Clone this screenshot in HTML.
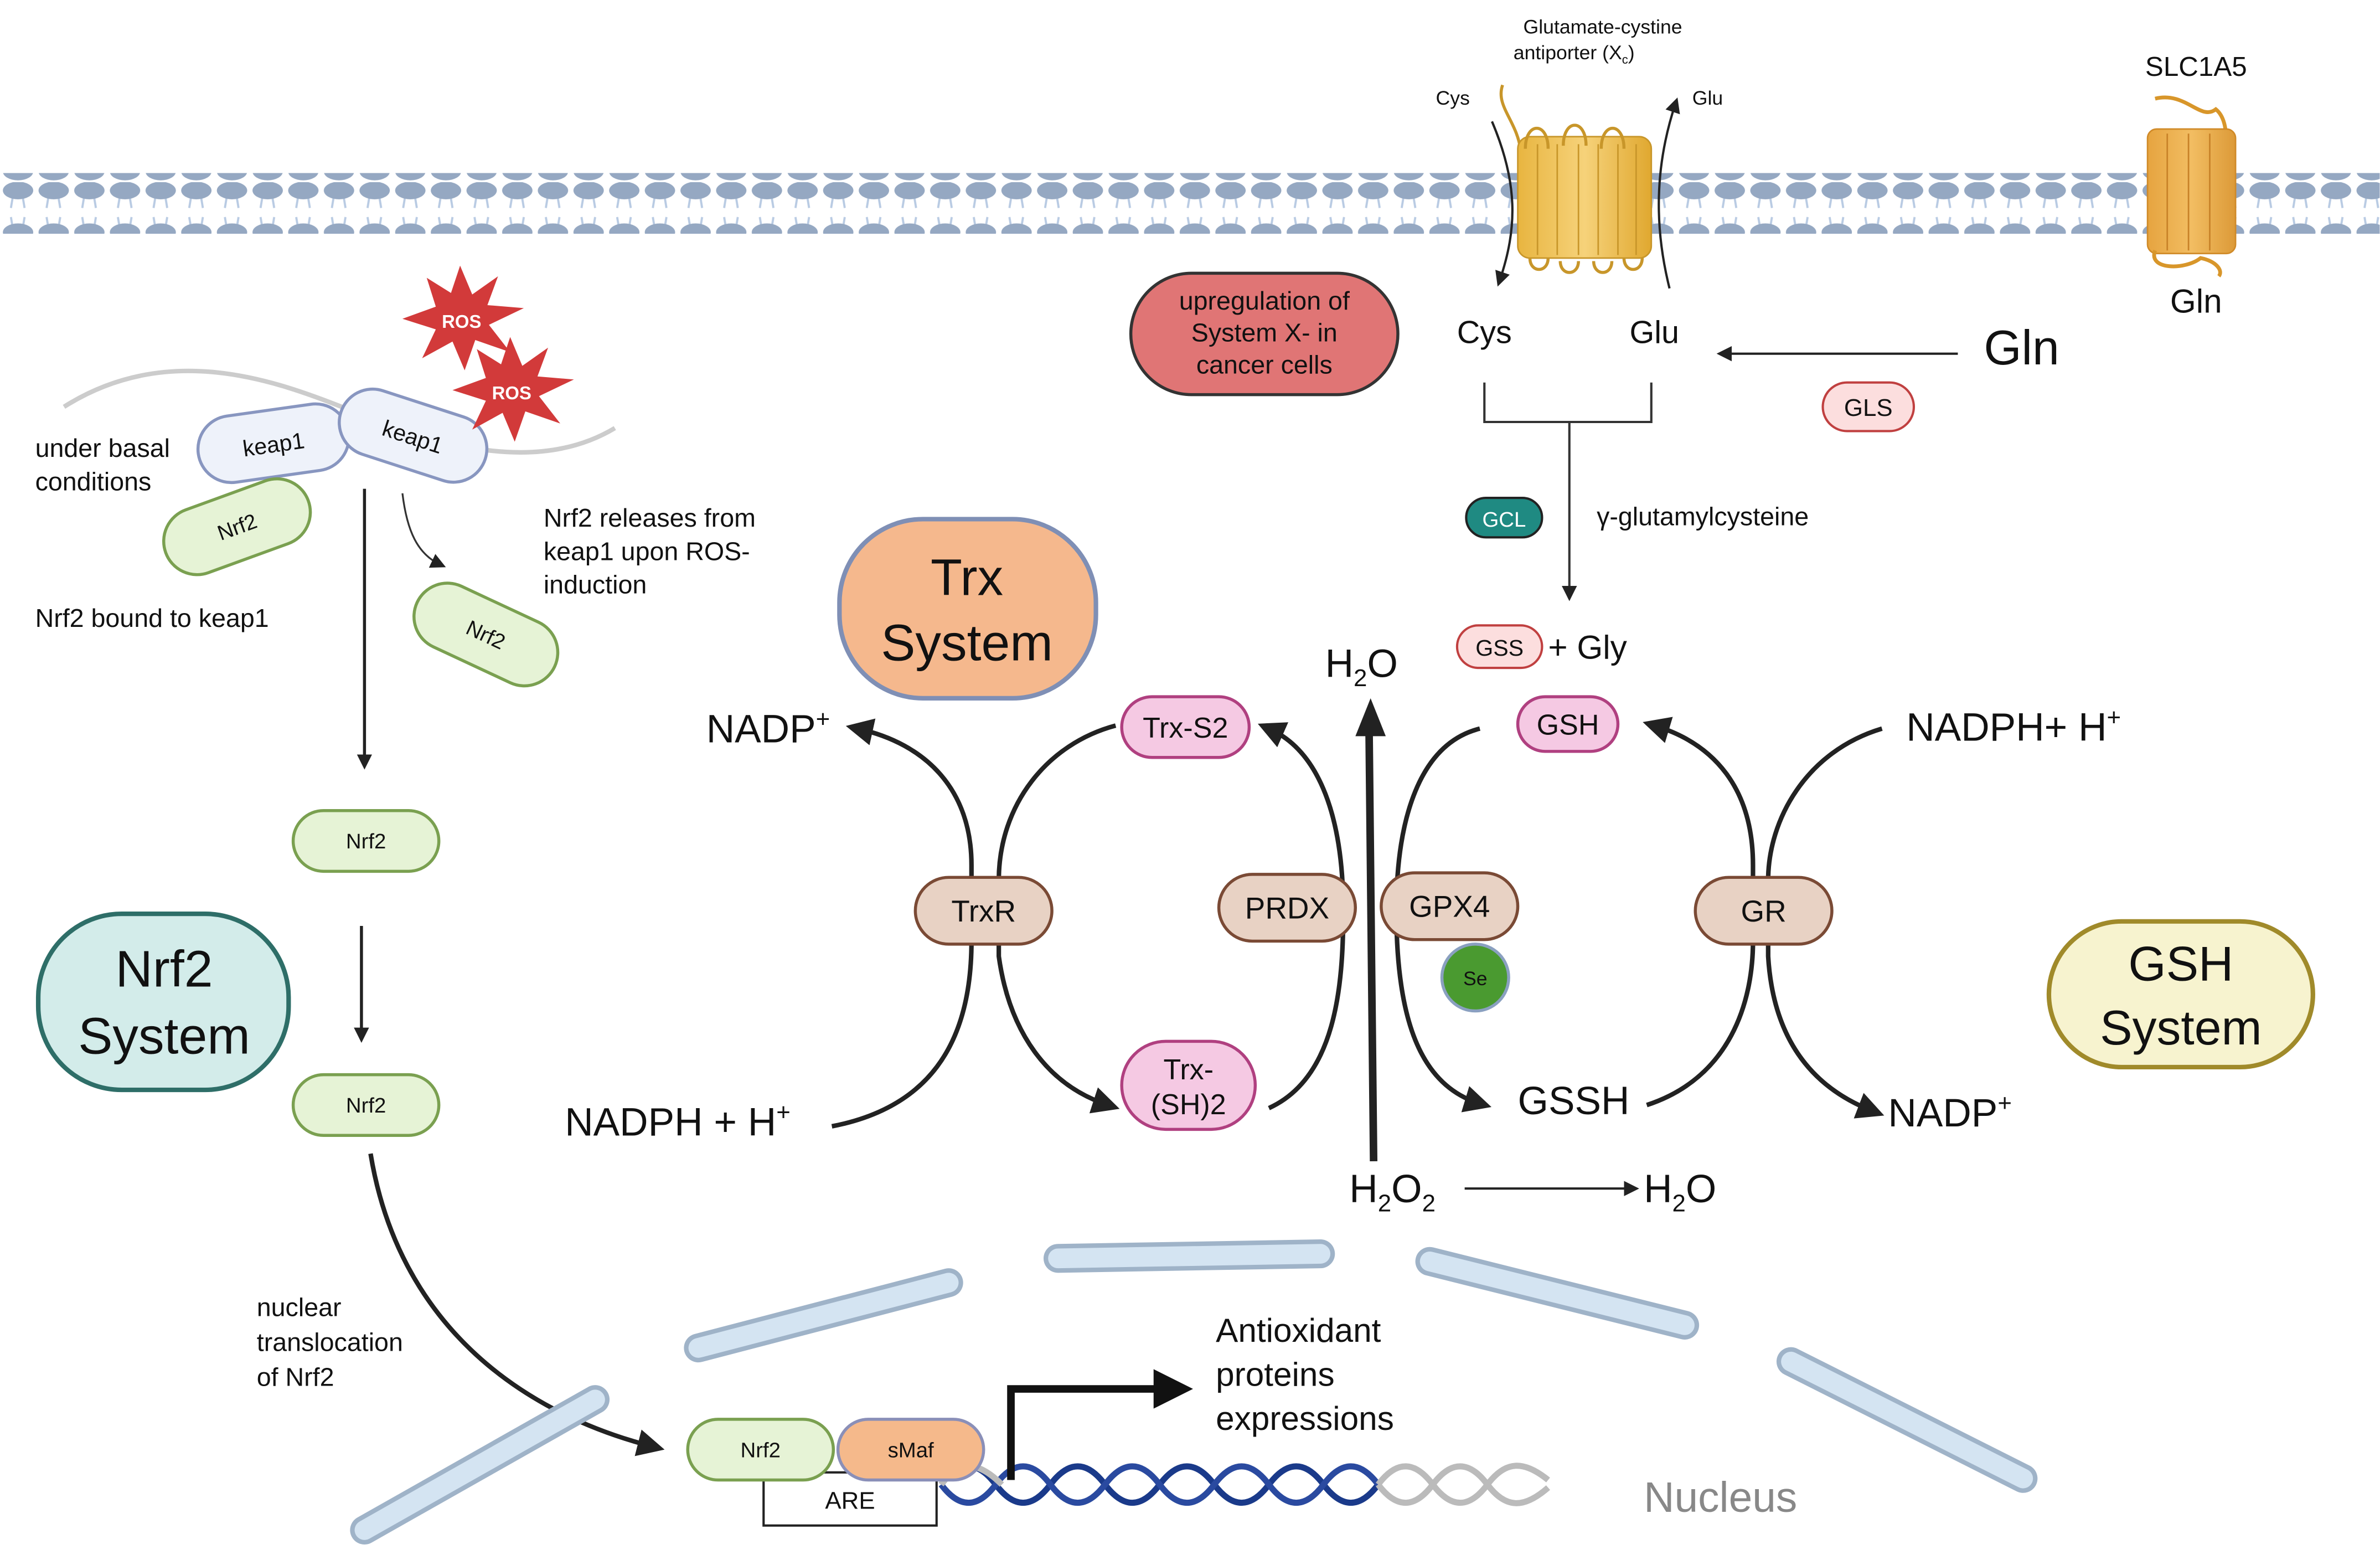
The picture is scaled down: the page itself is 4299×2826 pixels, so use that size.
<!DOCTYPE html>
<html><head><meta charset="utf-8"><style>
html,body{margin:0;padding:0;background:#fff}
svg{display:block}
text{font-family:"Liberation Sans",sans-serif;fill:#111}
</style></head><body>
<svg width="4299" height="2826" viewBox="0 0 1568 1031" xmlns="http://www.w3.org/2000/svg">
<defs>
<pattern id="mem" x="0" y="0" width="23.5" height="40" patternUnits="userSpaceOnUse">
<path d="M9,5 L7,17 M14,5 L16,17 M9,35 L7,23 M14,35 L16,23" stroke="#b9cbe3" stroke-width="1.4" fill="none"/>
<ellipse cx="11.7" cy="5.5" rx="10" ry="5.8" fill="#95a8c2"/>
<ellipse cx="11.7" cy="33" rx="10" ry="5.8" fill="#95a8c2"/>
</pattern>
<marker id="ah" markerWidth="10" markerHeight="10" refX="6" refY="5" orient="auto" markerUnits="userSpaceOnUse"><path d="M0,0 L10,5 L0,10 z" fill="#222"/></marker>
<marker id="ahb" markerWidth="18" markerHeight="18" refX="10" refY="9" orient="auto" markerUnits="userSpaceOnUse"><path d="M0,0 L18,9 L0,18 z" fill="#222"/></marker>
<linearGradient id="gold" x1="0" x2="1"><stop offset="0" stop-color="#e8b540"/><stop offset="0.5" stop-color="#f6d27a"/><stop offset="1" stop-color="#e0a830"/></linearGradient>
<linearGradient id="or" x1="0" x2="1"><stop offset="0" stop-color="#e6a440"/><stop offset="0.5" stop-color="#f2bd62"/><stop offset="1" stop-color="#dc9a38"/></linearGradient>
</defs>

<rect x="0" y="114" width="1568" height="40" fill="url(#mem)"/>

<g stroke="#c8962a" stroke-width="1">
<path d="M990,56 C985,70 1000,80 1002,100" fill="none" stroke="#c8962a" stroke-width="2"/>
<rect x="1000" y="90" width="88" height="80" rx="8" fill="url(#gold)"/>
<path d="M1013,95 V168 M1026,95 V168 M1040,95 V168 M1053,95 V168 M1066,95 V168 M1078,95 V168" fill="none"/>
<path d="M1005,98 C1005,80 1020,80 1020,98 M1030,96 C1030,78 1045,78 1045,96 M1055,98 C1055,80 1070,80 1070,98" fill="none" stroke-width="2"/>
<path d="M1008,170 c0,10 12,10 12,0 M1028,172 c0,10 12,10 12,0 M1050,172 c0,10 12,10 12,0 M1070,170 c0,10 12,10 12,0" fill="none" stroke-width="2"/>
</g>
<path d="M983,80 C1000,120 1000,150 988,185" fill="none" stroke="#222" stroke-width="1.5" marker-end="url(#ah)"/>
<path d="M1100,190 C1090,150 1090,110 1104,68" fill="none" stroke="#222" stroke-width="1.5" marker-end="url(#ah)"/>
<text x="1056" y="22" font-size="13" text-anchor="middle">Glutamate-cystine</text>
<text x="1077" y="39" font-size="13" text-anchor="end">antiporter (X<tspan font-size="8" dy="3">c</tspan><tspan dy="-3">)</tspan></text>
<text x="946" y="69" font-size="13">Cys</text>
<text x="1115" y="69" font-size="13">Glu</text>

<path d="M1420,65 C1440,60 1450,80 1460,72 C1470,80 1465,100 1470,100" fill="none" stroke="#d8962a" stroke-width="2.5"/>
<rect x="1415" y="85" width="58" height="82" rx="6" fill="url(#or)" stroke="#d08a28"/>
<path d="M1428,88 V165 M1442,88 V165 M1456,88 V165" stroke="#c88228" fill="none"/>
<path d="M1420,165 C1415,178 1440,178 1450,170 C1460,172 1465,178 1462,182" fill="none" stroke="#d8962a" stroke-width="2.5"/>
<text x="1447" y="50" font-size="18" text-anchor="middle">SLC1A5</text>
<text x="1447" y="206" font-size="22" text-anchor="middle">Gln</text>

<rect x="745" y="180" width="176" height="80" rx="40" fill="#e07575" stroke="#333" stroke-width="2"/>
<text x="833" y="204" font-size="17" text-anchor="middle">upregulation of</text>
<text x="833" y="225" font-size="17" text-anchor="middle">System X- in</text>
<text x="833" y="246" font-size="17" text-anchor="middle">cancer cells</text>

<text x="978" y="226" font-size="21" text-anchor="middle">Cys</text>
<text x="1090" y="226" font-size="21" text-anchor="middle">Glu</text>
<text x="1332" y="240" font-size="32" text-anchor="middle">Gln</text>
<path d="M1290,233 L1135,233" stroke="#222" stroke-width="1.5" marker-end="url(#ah)"/>
<rect x="1201" y="252" width="60" height="32" rx="16" fill="#fcdede" stroke="#c04040" stroke-width="1.5"/>
<text x="1231" y="274" font-size="16" text-anchor="middle">GLS</text>
<path d="M978,252 V278 H1088 V252" fill="none" stroke="#333" stroke-width="1.5"/>
<path d="M1034,278 V392" stroke="#333" stroke-width="1.5" marker-end="url(#ah)"/>
<rect x="966" y="328" width="50" height="26" rx="13" fill="#1f8a82" stroke="#222" stroke-width="1.5"/>
<text x="991" y="347" font-size="14" text-anchor="middle" style="fill:#fff">GCL</text>
<text x="1052" y="346" font-size="17">γ-glutamylcysteine</text>
<rect x="960" y="412" width="56" height="28" rx="14" fill="#fcdede" stroke="#c04040" stroke-width="1.5"/>
<text x="988" y="432" font-size="15" text-anchor="middle">GSS</text>
<text x="1020" y="434" font-size="22">+ Gly</text>

<path d="M42,268 C110,225 180,250 230,270 S350,315 405,282" fill="none" stroke="#ccc" stroke-width="3"/>
<g transform="translate(180,292) rotate(-8)"><rect x="-50" y="-22" width="100" height="44" rx="22" fill="#eef2fa" stroke="#8896c0" stroke-width="2"/><text y="6" font-size="15" text-anchor="middle">keap1</text></g>
<g transform="translate(272,287) rotate(18)"><rect x="-50" y="-22" width="100" height="44" rx="22" fill="#eef2fa" stroke="#8896c0" stroke-width="2"/><text y="6" font-size="15" text-anchor="middle">keap1</text></g>
<g transform="translate(156,347) rotate(-20)"><rect x="-50" y="-22" width="100" height="44" rx="22" fill="#e6f3d6" stroke="#7aa050" stroke-width="2"/><text y="5" font-size="14" text-anchor="middle">Nrf2</text></g>
<g transform="translate(320,418) rotate(25)"><rect x="-50" y="-22" width="100" height="44" rx="22" fill="#e6f3d6" stroke="#7aa050" stroke-width="2"/><text y="5" font-size="14" text-anchor="middle">Nrf2</text></g>
<polygon points="303,175 311,194 328,182 321,201 345,203 322,214 336,232 313,224 306,244 298,225 278,236 287,217 265,210 287,202 281,183 297,193" fill="#d23a3a"/>
<text x="304" y="216" font-size="12" font-weight="bold" text-anchor="middle" style="fill:#fff">ROS</text>
<polygon points="336,222 344,241 361,229 354,248 378,250 355,261 369,279 346,271 339,291 331,272 311,283 320,264 298,257 320,249 314,230 330,240" fill="#d23a3a"/>
<text x="337" y="263" font-size="12" font-weight="bold" text-anchor="middle" style="fill:#fff">ROS</text>
<text x="23" y="301" font-size="17">under basal</text>
<text x="23" y="323" font-size="17">conditions</text>
<text x="23" y="413" font-size="17">Nrf2 bound to keap1</text>
<text x="358" y="347" font-size="17">Nrf2 releases from</text>
<text x="358" y="369" font-size="17">keap1 upon ROS-</text>
<text x="358" y="391" font-size="17">induction</text>
<path d="M265,325 C268,350 275,365 290,372" fill="none" stroke="#333" stroke-width="1.2" marker-end="url(#ah)"/>
<path d="M240,322 V503" stroke="#222" stroke-width="2" marker-end="url(#ah)"/>
<rect x="193" y="534" width="96" height="40" rx="20" fill="#e6f3d6" stroke="#7aa050" stroke-width="2"/>
<text x="241" y="559" font-size="14" text-anchor="middle">Nrf2</text>
<path d="M238,610 V683" stroke="#222" stroke-width="2" marker-end="url(#ah)"/>
<rect x="193" y="708" width="96" height="40" rx="20" fill="#e6f3d6" stroke="#7aa050" stroke-width="2"/>
<text x="241" y="733" font-size="14" text-anchor="middle">Nrf2</text>
<path d="M244,760 C262,870 340,930 430,953" fill="none" stroke="#222" stroke-width="3" marker-end="url(#ahb)"/>
<text x="169" y="867" font-size="17">nuclear</text>
<text x="169" y="890" font-size="17">translocation</text>
<text x="169" y="913" font-size="17">of Nrf2</text>

<rect x="25" y="602" width="165" height="116" rx="55" fill="#d3ecea" stroke="#2e6e68" stroke-width="3"/>
<text x="108" y="650" font-size="34" text-anchor="middle">Nrf2</text>
<text x="108" y="694" font-size="34" text-anchor="middle">System</text>
<rect x="553" y="342" width="169" height="118" rx="55" fill="#f5b88d" stroke="#7f8fb5" stroke-width="3"/>
<text x="637" y="392" font-size="34" text-anchor="middle">Trx</text>
<text x="637" y="435" font-size="34" text-anchor="middle">System</text>
<rect x="1350" y="607" width="174" height="96" rx="48" fill="#f7f3cf" stroke="#a08a2a" stroke-width="3"/>
<text x="1437" y="646" font-size="32" text-anchor="middle">GSH</text>
<text x="1437" y="688" font-size="32" text-anchor="middle">System</text>

<g fill="none" stroke="#222" stroke-width="3">
<path d="M548,742 C610,730 640,690 640,620 L640,570 C640,520 610,490 565,480" marker-end="url(#ahb)"/>
<path d="M735,478 C690,490 658,530 658,580 L658,630 C665,680 690,715 730,728" marker-end="url(#ahb)"/>
<path d="M836,730 C880,710 885,650 885,600 C885,540 870,495 836,480" marker-end="url(#ahb)"/>
<path d="M975,480 C935,490 920,540 920,600 C920,670 935,715 975,727" marker-end="url(#ahb)"/>
<path d="M1240,480 C1190,495 1165,540 1165,580 L1165,630 C1168,680 1190,715 1234,732" marker-end="url(#ahb)"/>
<path d="M1085,728 C1140,710 1155,660 1155,620 L1155,570 C1155,520 1130,490 1090,478" marker-end="url(#ahb)"/>
</g>
<polygon points="903,460 893,485 913,485" fill="#222"/>
<path d="M905,765 L902,480" stroke="#222" stroke-width="5" fill="none"/>
<path d="M965,783 L1076,783" stroke="#222" stroke-width="1.5" marker-end="url(#ah)"/>

<text x="506" y="489" font-size="26" text-anchor="middle">NADP<tspan font-size="16" dy="-10">+</tspan></text>
<text x="372" y="748" font-size="26">NADPH + H<tspan font-size="16" dy="-10">+</tspan></text>
<text x="897" y="446" font-size="26" text-anchor="middle">H<tspan font-size="16" dy="6">2</tspan><tspan dy="-6">O</tspan></text>
<text x="1256" y="488" font-size="26">NADPH+ H<tspan font-size="16" dy="-10">+</tspan></text>
<text x="1244" y="742" font-size="26">NADP<tspan font-size="16" dy="-10">+</tspan></text>
<text x="1000" y="734" font-size="26">GSSH</text>
<text x="889" y="792" font-size="26">H<tspan font-size="16" dy="6">2</tspan><tspan dy="-6">O</tspan><tspan font-size="16" dy="6">2</tspan></text>
<text x="1083" y="792" font-size="26">H<tspan font-size="16" dy="6">2</tspan><tspan dy="-6">O</tspan></text>

<g stroke="#7a4a35" stroke-width="2" fill="#e8d2c4">
<rect x="603" y="578" width="90" height="44" rx="22"/>
<rect x="803" y="576" width="90" height="44" rx="22"/>
<rect x="910" y="575" width="90" height="44" rx="22"/>
<rect x="1117" y="578" width="90" height="44" rx="22"/>
</g>
<text x="648" y="607" font-size="20" text-anchor="middle">TrxR</text>
<text x="848" y="605" font-size="20" text-anchor="middle">PRDX</text>
<text x="955" y="604" font-size="20" text-anchor="middle">GPX4</text>
<text x="1162" y="607" font-size="20" text-anchor="middle">GR</text>
<circle cx="972" cy="644" r="22" fill="#4a9a30" stroke="#8aa0c0" stroke-width="2"/>
<text x="972" y="649" font-size="13" text-anchor="middle">Se</text>
<g stroke="#b04080" stroke-width="2" fill="#f5c9e3">
<rect x="739" y="459" width="84" height="40" rx="20"/>
<rect x="1000" y="459" width="66" height="36" rx="18"/>
<rect x="739" y="686" width="88" height="58" rx="29"/>
</g>
<text x="781" y="486" font-size="19" text-anchor="middle">Trx-S2</text>
<text x="1033" y="484" font-size="19" text-anchor="middle">GSH</text>
<text x="783" y="711" font-size="19" text-anchor="middle">Trx-</text>
<text x="783" y="734" font-size="19" text-anchor="middle">(SH)2</text>

<g stroke-linecap="round" fill="none">
<g stroke="#9fb3c8" stroke-width="19">
<path d="M240,1008 L392,922"/><path d="M460,888 L625,845"/><path d="M697,829 L870,826"/><path d="M942,831 L1110,873"/><path d="M1180,897 L1333,974"/>
</g>
<g stroke="#d4e4f2" stroke-width="13">
<path d="M240,1008 L392,922"/><path d="M460,888 L625,845"/><path d="M697,829 L870,826"/><path d="M942,831 L1110,873"/><path d="M1180,897 L1333,974"/>
</g>
</g>
<text x="1083" y="996" font-size="28" style="fill:#888">Nucleus</text>

<g fill="none" stroke-width="4">
<path d="M620,978 C632,962 644,962 656,978 S680,994 692,978 S716,962 728,978 S752,994 764,978 S788,962 800,978 S824,994 836,978 S860,962 872,978 S896,994 908,978" stroke="#1a3a8a"/>
<path d="M620,978 C632,994 644,994 656,978 S680,962 692,978 S716,994 728,978 S752,962 764,978 S788,994 800,978 S824,962 836,978 S860,994 872,978 S896,962 908,978" stroke="#2a4aa0"/>
<path d="M908,978 C920,962 932,962 944,978 S968,994 980,978 S1004,962 1020,975" stroke="#bbb"/>
<path d="M908,978 C920,994 932,994 944,978 S968,962 980,978 S1004,994 1020,980" stroke="#bbb"/>
<path d="M620,978 C632,962 644,962 660,978" stroke="#bbb"/>
</g>
<rect x="503" y="970" width="114" height="35" fill="#fff" stroke="#222" stroke-width="1.5"/>
<text x="560" y="994" font-size="16" text-anchor="middle">ARE</text>
<rect x="453" y="935" width="96" height="40" rx="20" fill="#e6f3d6" stroke="#7aa050" stroke-width="2"/>
<text x="501" y="960" font-size="14" text-anchor="middle">Nrf2</text>
<rect x="552" y="935" width="96" height="40" rx="20" fill="#f5b98b" stroke="#8a8fb8" stroke-width="2"/>
<text x="600" y="960" font-size="14" text-anchor="middle">sMaf</text>
<path d="M666,975 L666,915 L762,915" fill="none" stroke="#111" stroke-width="5"/>
<polygon points="760,902 786,915 760,928" fill="#111"/>
<text x="801" y="884" font-size="22">Antioxidant</text>
<text x="801" y="913" font-size="22">proteins</text>
<text x="801" y="942" font-size="22">expressions</text>
</svg>
</body></html>
